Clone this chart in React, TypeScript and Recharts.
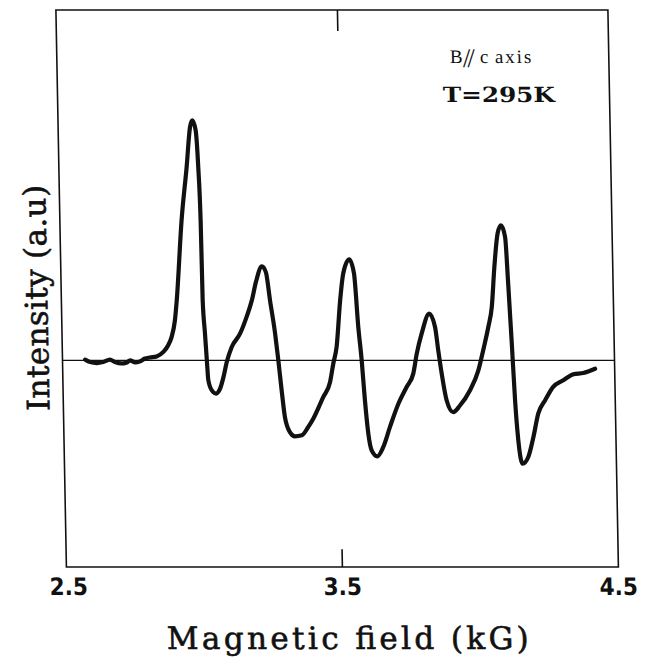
import {
  LineChart,
  Line,
  XAxis,
  YAxis,
  ReferenceLine,
  ReferenceArea,
  ReferenceDot,
  Label,
} from 'recharts'

// ESR trace (field in kG, intensity in arbitrary units)
const fieldKG = [
  2.582, 2.6, 2.624, 2.647, 2.672, 2.69, 2.712, 2.733, 2.745, 2.763, 2.781, 2.799,
  2.817, 2.841, 2.866, 2.884, 2.897, 2.91, 2.918, 2.941, 2.963, 2.978, 2.987, 2.998,
  3.005, 3.01, 3.012, 3.018, 3.023, 3.027, 3.039, 3.054, 3.069, 3.082, 3.095, 3.114,
  3.145, 3.17, 3.19, 3.206, 3.229, 3.243, 3.256, 3.272, 3.282, 3.292, 3.302, 3.319,
  3.337, 3.362, 3.386, 3.405, 3.442, 3.468, 3.481, 3.494, 3.51, 3.523, 3.546, 3.562,
  3.574, 3.584, 3.593, 3.603, 3.614, 3.634, 3.656, 3.682, 3.714, 3.745, 3.77, 3.784,
  3.803, 3.832, 3.852, 3.862, 3.873, 3.889, 3.912, 3.937, 3.974, 4.006, 4.025, 4.045,
  4.059, 4.071, 4.085, 4.098, 4.112, 4.12, 4.129, 4.137, 4.146, 4.16, 4.181, 4.201,
  4.22, 4.246, 4.276, 4.313, 4.35, 4.386, 4.429,
]
const intensity = [
  0.2, -0.5, -0.8, -0.5, 0.2, -0.5, -0.9, -0.6, 0, -0.6, -0.3, 0.5,
  0.8, 1.1, 2.4, 4.3, 6.7, 11.4, 17.1, 40, 55.2, 66.6, 68.5, 65.7,
  55.2, 40, 17.1, 7.7, 0, -5.7, -8.6, -9.5, -8.1, -4.8, -0.5, 3.8,
  7.6, 12.4, 17.1, 22.3, 26.8, 25.1, 17.1, 7.7, 0, -8.6, -16.2, -20.5,
  -21.7, -21.4, -19, -16.6, -10.5, -6.2, -0.9, 3.8, 17.1, 24.8, 28.8, 24.8,
  9.5, 0, -11.4, -20.9, -25.7, -27.4, -24.8, -19, -12.4, -7.6, -3.8, 1.9,
  7.6, 13.3, 9.5, 2.9, -3.8, -11.4, -14.8, -12.9, -8.6, -2.9, 2.9, 9.5,
  15.2, 26.6, 36.2, 38.5, 35.2, 21.9, 4.8, -11.4, -22.8, -29.5, -27.6, -21.9,
  -15.2, -11.4, -7.6, -5.7, -4, -3.6, -2.4,
]

const xTicks = [2.5, 3.5, 4.5]
const xTickLabels = ['2.5', '3.5', '4.5']
const xTitle = 'Magnetic field (kG)'
const yTitle = 'Intensity (a.u)'
const tempLabel = 'T=295K'
const axisLabel = ['B', '//', 'c', 'axis']

const X_MIN = 2.5
const X_MAX = 4.5
const Y_MIN = -59
const Y_MAX = 100
const TOP_TICK = 3.52

const ink = '#111'

const data = fieldKG.map((f, i) => ({ field: f, intensity: intensity[i] }))

function FieldTick({ x, y, payload }: any) {
  const i = xTicks.indexOf(payload.value)
  return (
    <text
      x={x + (i === 0 ? 2 : 0)}
      y={y + 28}
      textAnchor="middle"
      fontFamily="'Liberation Sans Narrow', 'DejaVu Sans Condensed', sans-serif"
      fontWeight="bold"
      fontSize={24}
      fill={ink}
    >
      {xTickLabels[i]}
    </text>
  )
}

function AxisTitles({ viewBox }: any) {
  const { x, y, width } = viewBox
  const yx = x - 14
  const yy = y - 269
  return (
    <g fontFamily="'DejaVu Serif', serif" fill={ink} stroke={ink} strokeWidth={0.6}>
      <text x={x + width / 2 + 4} y={y + 82} textAnchor="middle" fontSize={31} textLength={362} lengthAdjust="spacing">
        {xTitle}
      </text>
      <text
        x={yx}
        y={yy}
        textAnchor="middle"
        fontSize={31}
        textLength={226}
        lengthAdjust="spacing"
        transform={`rotate(-90, ${yx}, ${yy})`}
      >
        {yTitle}
      </text>
    </g>
  )
}

function TempText({ viewBox }: any) {
  return (
    <text
      x={viewBox.x}
      y={viewBox.y}
      fontFamily="'DejaVu Serif', serif"
      fontWeight="bold"
      fontSize={21}
      textLength={112}
      lengthAdjust="spacingAndGlyphs"
      fill={ink}
    >
      {tempLabel}
    </text>
  )
}

function OrientText({ viewBox }: any) {
  const { x, y } = viewBox
  return (
    <g fontFamily="'Liberation Serif', serif" fill={ink}>
      <text x={x} y={y} fontSize={19}>{axisLabel[0]}</text>
      <text x={x + 13} y={y + 4} fontSize={27} letterSpacing={-3}>{axisLabel[1]}</text>
      <text x={x + 30} y={y} fontSize={19}>{axisLabel[2]}</text>
      <text x={x + 45} y={y} fontSize={19} letterSpacing={2}>{axisLabel[3]}</text>
    </g>
  )
}

export default function App() {
  return (
    <div
      style={{
        width: 630,
        height: 650,
        background: '#fff',
        transform: 'skewX(1.08deg)',
        transformOrigin: '50% 352px',
      }}
    >
      <LineChart
        width={630}
        height={650}
        data={data}
        margin={{ top: 2, right: 23.5, bottom: 6, left: 54.5 }}
      >
        <XAxis
          dataKey="field"
          type="number"
          domain={[X_MIN, X_MAX]}
          ticks={xTicks}
          axisLine={false}
          tickLine={false}
          tickSize={0}
          tickMargin={0}
          height={85}
          tick={<FieldTick />}
          interval={0}
          allowDataOverflow
        >
          <Label content={<AxisTitles />} />
        </XAxis>
        <YAxis type="number" domain={[Y_MIN, Y_MAX]} hide allowDataOverflow />
        <ReferenceArea
          x1={X_MIN}
          x2={X_MAX}
          y1={Y_MIN}
          y2={Y_MAX}
          fill="none"
          stroke={ink}
          strokeWidth={1.6}
          fillOpacity={0}
        />
        <ReferenceLine y={0} stroke={ink} strokeWidth={1.2} />
        <ReferenceLine
          segment={[
            { x: 3.5, y: Y_MIN },
            { x: 3.5, y: Y_MIN + 5.1 },
          ]}
          stroke={ink}
          strokeWidth={1.6}
        />
        <ReferenceLine
          segment={[
            { x: TOP_TICK, y: Y_MAX },
            { x: TOP_TICK, y: Y_MAX - 6 },
          ]}
          stroke={ink}
          strokeWidth={1.6}
        />
        <ReferenceDot x={3.896} y={73.6} r={0} stroke="none" fill="none" label={(p: any) => <TempText {...p} />} />
        <ReferenceDot x={3.924} y={85} r={0} stroke="none" fill="none" label={(p: any) => <OrientText {...p} />} />
        <Line
          type="monotone"
          dataKey="intensity"
          stroke={ink}
          strokeWidth={4.2}
          dot={false}
          isAnimationActive={false}
          strokeLinejoin="round"
          strokeLinecap="round"
        />
      </LineChart>
    </div>
  )
}
